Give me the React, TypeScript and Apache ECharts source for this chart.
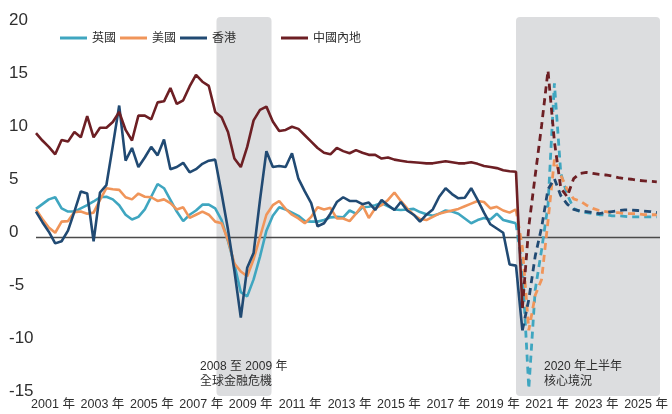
import React, { useEffect, useRef } from "react";
import * as echarts from "echarts";

// Quarterly year-on-year GDP growth (%), first point = 2001 Q1
const firstYear = 2001;
const seriesNames = ["英國", "美國", "香港", "中國內地"];
const yearLabels = [2001, 2003, 2005, 2007, 2009, 2011, 2013, 2015, 2017, 2019, 2021, 2023, 2025];
const yTicks = { min: -15, max: 20, step: 5 };

const ukActual = [
  2.65, 3.1, 3.55, 3.75, 2.7, 2.4, 2.4, 2.7, 3.0, 3.35,
  3.75, 3.8, 3.55, 3.0, 2.1, 1.65, 1.9, 2.6, 3.8, 5.0,
  4.6, 3.5, 2.4, 1.5, 2.1, 2.5, 3.05, 3.05, 2.7, 1.6,
  -0.4, -2.6, -5.2, -5.6, -4.0, -1.85, 0.6, 2.0, 2.8, 2.6,
  2.3, 2.0, 1.5, 1.45, 1.45, 1.6, 1.85, 1.9, 1.85, 2.5,
  2.2, 2.8, 2.85, 3.0, 3.2, 2.9, 2.6, 2.55, 2.6, 2.65,
  2.35, 2.15, 2.0, 2.2, 2.5, 2.4, 2.2, 1.75, 1.3, 1.6,
  1.8, 1.65, 2.2, 1.6, 1.45, 1.3,
];
const ukScenario = [1.3, -3.0, -14.3, -5.0, -1.2, 3.0, 14.5, 6.0, 4.0, 2.7, 2.4, 2.3, 2.2, 2.1, 2.1, 2.0, 2.0, 1.95, 1.9, 1.9, 1.9, 1.9, 1.9];

const usActual = [
  2.6, 1.7, 0.9, 0.4, 1.45, 1.5, 2.35, 2.4, 2.2, 2.3,
  3.5, 4.6, 4.5, 4.45, 3.75, 3.55, 4.1, 3.8, 3.75, 3.4,
  3.55, 3.2, 2.6, 2.8, 1.8, 2.1, 2.4, 2.1, 1.45, 1.3,
  -0.3, -2.5, -3.25, -3.7, -2.1, 0.0, 2.1, 3.0, 3.4, 2.65,
  2.1, 1.75, 1.3, 1.9, 2.8, 2.6, 2.75, 1.75, 1.75, 1.5,
  2.2, 3.0, 1.8, 2.7, 3.0, 3.5, 4.2, 3.4, 2.7, 2.1,
  1.7, 1.6, 1.9, 2.2, 2.35, 2.5, 2.65, 2.9, 3.15, 3.4,
  3.3, 2.7, 2.85, 2.5, 2.3, 2.6,
];
const usScenario = [2.6, -1.0, -8.8, -5.5, -4.0, 1.5, 7.3, 5.8, 4.5, 3.6, 3.4, 3.0, 2.7, 2.5, 2.4, 2.3, 2.3, 2.2, 2.2, 2.2, 2.1, 2.1, 2.1];

const hkActual = [
  2.4, 1.4, 0.5, -0.6, -0.4, 0.6, 2.4, 4.3, 4.1, -0.4,
  4.2, 4.9, 8.6, 12.4, 7.2, 8.4, 6.6, 7.5, 8.5, 7.7,
  9.2, 6.4, 6.6, 7.0, 6.1, 6.4, 6.9, 7.2, 7.3, 4.1,
  0.7, -3.2, -7.6, -2.9, -1.5, 3.5, 8.1, 6.6, 6.7, 6.6,
  7.9, 5.5, 4.3, 3.2, 1.0, 1.3, 2.2, 3.3, 3.75, 3.4,
  3.4, 3.1, 3.25, 2.55, 3.5, 3.0, 2.55, 3.3, 2.5, 2.1,
  1.45, 2.1, 2.6, 3.8, 4.6, 4.05, 3.65, 3.7, 4.6, 3.5,
  2.3, 1.2, 0.8, 0.4, -2.6, -2.7, -8.8,
];
const hkScenario = [-8.8, -5.9, -1.8, 0.9, 4.5, 5.5, 3.9, 3.1, 2.6, 2.45, 2.4, 2.3, 2.2, 2.3, 2.4, 2.5, 2.55, 2.55, 2.5, 2.45, 2.4, 2.3];

const cnActual = [
  9.8, 9.1, 8.5, 7.8, 9.15, 9.0, 9.9, 9.4, 11.4, 9.4,
  10.3, 10.3, 10.85, 11.8, 10.1, 9.1, 11.45, 11.45, 11.1, 12.7,
  12.8, 14.05, 12.55, 12.9, 14.2, 15.3, 14.65, 14.25, 11.8, 11.3,
  9.9, 7.4, 6.6, 8.5, 11.0, 12.0, 12.3, 10.9, 10.0, 10.1,
  10.4, 10.2, 9.6, 9.0, 8.4, 7.95, 7.8, 8.4, 8.1, 7.9,
  8.2, 7.95, 7.75, 7.75, 7.4, 7.5, 7.3, 7.2, 7.1, 7.05,
  7.0, 6.95, 6.95, 7.05, 7.15, 7.05, 6.95, 6.95, 7.05, 6.9,
  6.7, 6.6, 6.5, 6.3, 6.2, 6.15, -6.7,
];
const cnScenario = [-6.7, 1.0, 5.8, 10.5, 15.7, 9.0, 4.6, 3.8, 5.5, 6.0, 6.1, 6.0, 5.9, 5.85, 5.75, 5.6, 5.5, 5.45, 5.35, 5.3, 5.25, 5.2];

// shaded periods, in years
const shadePeriods = [
  [2008.05, 2010.2],
  [2019.75, 2025.375],
];
const annotationTexts = ["2008 至 2009 年\n全球金融危機", "2020 年上半年\n核心境況"];

const colors = ["#3fa6c0", "#f0955a", "#214a73", "#6d1f24"];
const FONT = "'Liberation Sans', Arial, 'Noto Sans CJK TC', sans-serif";
const TEXT = "#2e2e2e";

const toPoints = (values: number[], offset: number) =>
  values.map((v, k) => [firstYear + (offset + k) / 4, v]);

function buildOption() {
  const actual = [ukActual, usActual, hkActual, cnActual];
  const scenario = [ukScenario, usScenario, hkScenario, cnScenario];
  const series: any[] = [];
  actual.forEach((vals, s) => {
    series.push({
      name: seriesNames[s],
      type: "line",
      data: toPoints(vals, 0),
      symbol: "none",
      showSymbol: false,
      color: colors[s],
      lineStyle: { color: colors[s], width: 2.6 },
      z: 3 + s,
      ...(s === 0
        ? {
            markLine: {
              silent: true,
              symbol: ["none", "none"],
              label: { show: false },
              lineStyle: { color: "#4a4a4a", width: 1.4, type: "solid" },
              data: [{ yAxis: 0 }],
              z: 2,
            },
          }
        : {}),
    });
  });
  scenario.forEach((vals, s) => {
    series.push({
      name: seriesNames[s] + "（核心境況）",
      type: "line",
      data: toPoints(vals, actual[s].length - 1),
      symbol: "none",
      showSymbol: false,
      color: colors[s],
      lineStyle: { color: colors[s], width: 2.8, type: [7, 5] },
      z: 3 + s,
    });
  });

  const legendCommon = {
    top: 27,
    icon: "rect",
    itemWidth: 27,
    itemHeight: 3,
    itemGap: 4,
    textStyle: { fontSize: 12, color: TEXT, fontFamily: FONT },
  };

  return {
    animation: false,
    grid: { left: 36, right: 12, top: 25, bottom: 18 },
    legend: [
      { ...legendCommon, left: 55, data: seriesNames.slice(0, 3) },
      { ...legendCommon, left: 276, data: seriesNames.slice(3) },
    ],
    xAxis: [
      {
        type: "value",
        show: false,
        min: firstYear,
        max: 2025.375,
      },
      {
        type: "value",
        position: "bottom",
        min: 2000.312,
        max: 2025.565,
        axisLine: { show: false },
        axisTick: { show: false },
        splitLine: { show: false },
        axisLabel: {
          customValues: yearLabels,
          formatter: (v: number) => `${v} 年`,
          fontSize: 12.5,
          color: TEXT,
          fontFamily: FONT,
          margin: 2,
        },
      },
    ],
    yAxis: {
      type: "value",
      min: yTicks.min,
      max: yTicks.max,
      interval: yTicks.step,
      axisLine: { show: false },
      axisTick: { show: false },
      splitLine: { show: false },
      axisLabel: {
        align: "left",
        margin: 27,
        verticalAlign: "bottom",
        lineHeight: 12,
        fontSize: 17,
        color: TEXT,
        fontFamily: FONT,
      },
    },
    series,
  };
}

export default function App() {
  const ref = useRef<HTMLDivElement>(null);
  useEffect(() => {
    const chart = echarts.init(ref.current!, null, { renderer: "svg" });
    chart.setOption(buildOption() as any);
    const finder = { xAxisIndex: 0, yAxisIndex: 0 };
    const rects = shadePeriods.map(([a, b]) => {
      const p0 = chart.convertToPixel(finder as any, [a, yTicks.max]) as number[];
      const p1 = chart.convertToPixel(finder as any, [b, yTicks.min]) as number[];
      return {
        type: "rect",
        silent: true,
        z: -10,
        shape: { x: p0[0], y: p0[1] - 8, width: p1[0] - p0[0], height: p1[1] - p0[1] + 8, r: 4 },
        style: { fill: "#dcdddf" },
      };
    });
    const textLefts = [200, 544];
    const texts = annotationTexts.map((t, k) => ({
      type: "text",
      silent: true,
      left: textLefts[k],
      top: 358,
      z: 10,
      style: { text: t, fontSize: 12, fontFamily: FONT, fill: TEXT, lineHeight: 15 },
    }));
    chart.setOption({ graphic: [...rects, ...texts] } as any);
    return () => chart.dispose();
  }, []);
  return <div ref={ref} style={{ position: "fixed", left: 0, top: 0, width: 672, height: 414 }} />;
}
